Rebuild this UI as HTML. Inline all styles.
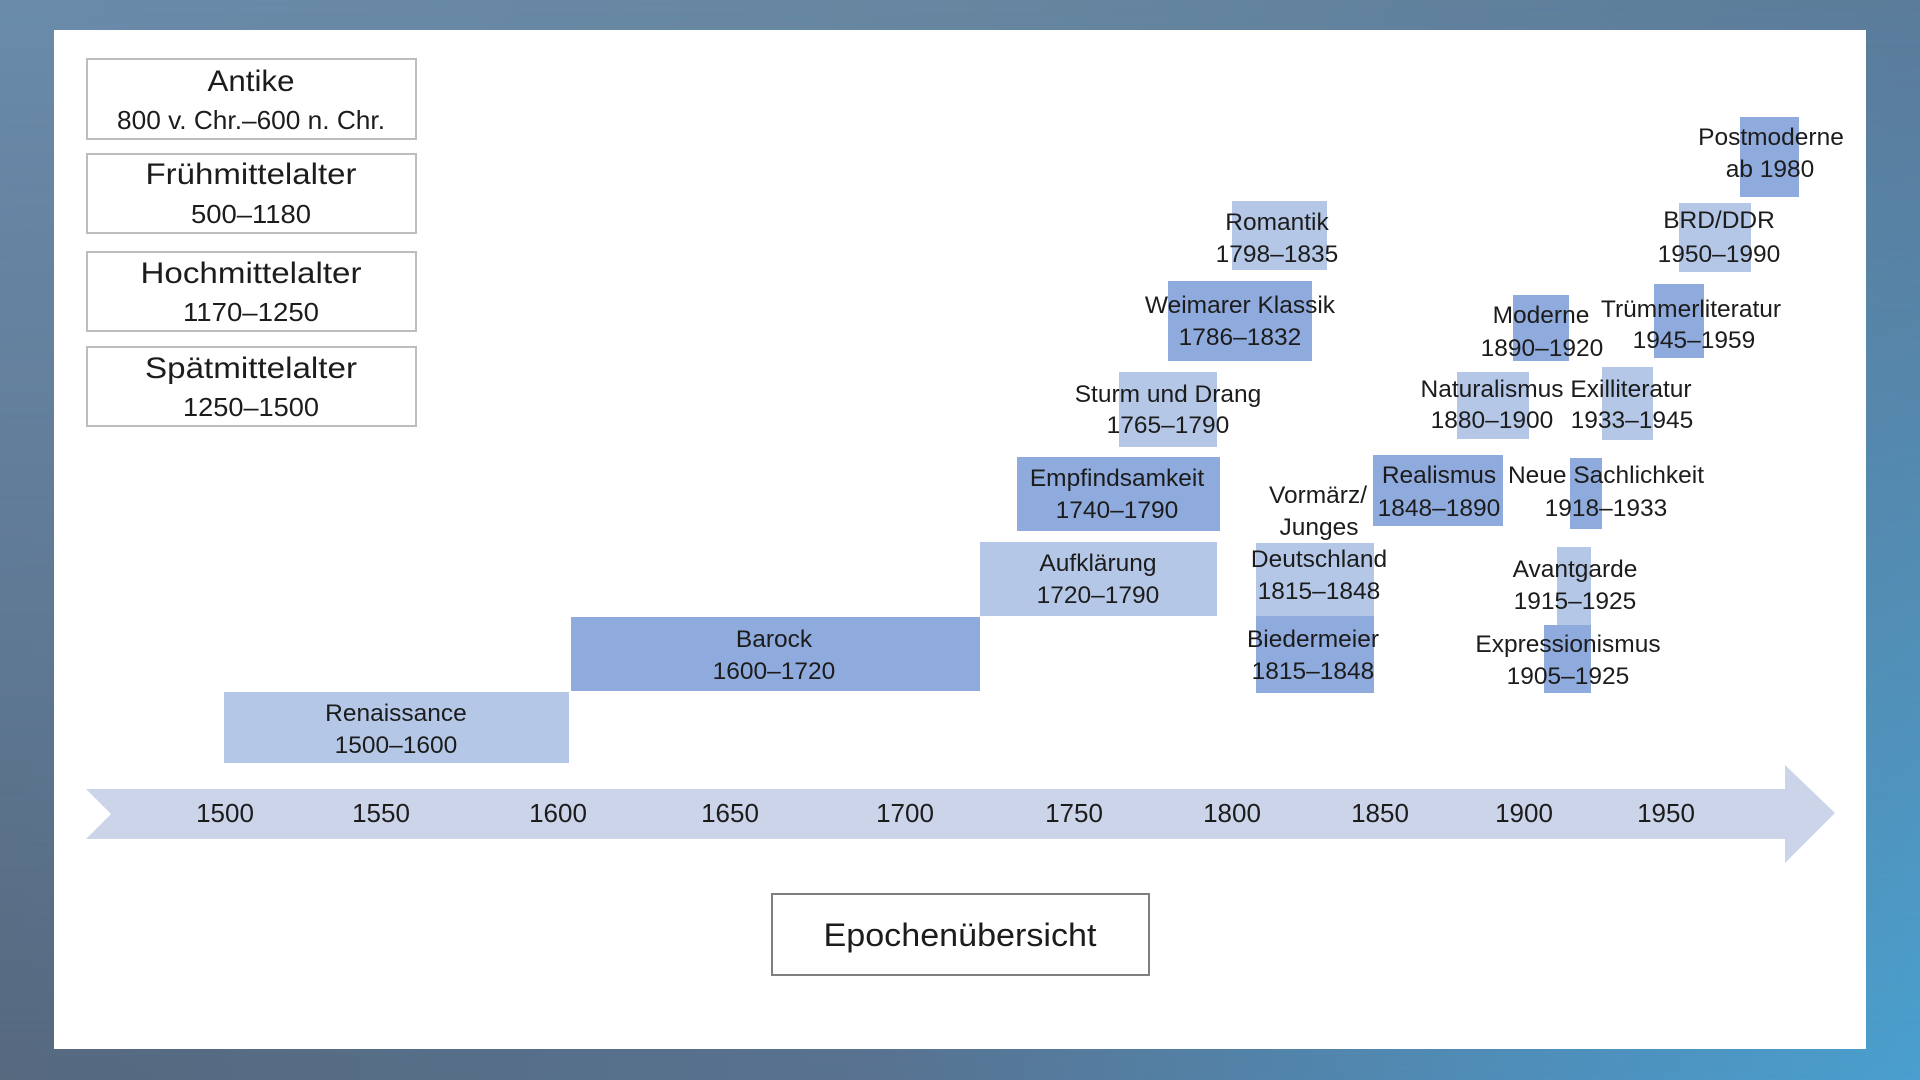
<!DOCTYPE html>
<html>
<head>
<meta charset="utf-8">
<style>
  html,body{margin:0;padding:0;width:1920px;height:1080px;overflow:hidden;}
  body{position:relative;background:linear-gradient(to right,#56697f 0%,#587290 45%,#4f8fbb 80%,#4aa0cf 100%);}
  .topblend{position:absolute;left:0;top:0;width:1920px;height:1080px;
    background:linear-gradient(to right,#6a8bab 0%,#67869f 50%,#5b7b9a 100%);
    -webkit-mask-image:linear-gradient(to bottom,#000 0%,rgba(0,0,0,0.55) 50%,rgba(0,0,0,0) 100%);
    mask-image:linear-gradient(to bottom,#000 0%,rgba(0,0,0,0.55) 50%,rgba(0,0,0,0) 100%);}
  svg{position:absolute;left:0;top:0;}
  text{font-family:"Liberation Sans",Arial,sans-serif;fill:#1c1c1c;}
</style>
</head>
<body>
<div class="topblend"></div>
<svg width="1920" height="1080" viewBox="0 0 1920 1080" xmlns="http://www.w3.org/2000/svg">
  <!-- panel -->
  <rect x="54" y="30" width="1812" height="1019" fill="#ffffff"/>

  <!-- left boxes -->
  <g fill="#ffffff" stroke="#bdbdbd" stroke-width="2">
    <rect x="87" y="59" width="329" height="80"/>
    <rect x="87" y="154" width="329" height="79"/>
    <rect x="87" y="252" width="329" height="79"/>
    <rect x="87" y="347" width="329" height="79"/>
  </g>
  <g text-anchor="middle">
    <text x="251" y="91" font-size="30" textLength="87" lengthAdjust="spacingAndGlyphs">Antike</text>
    <text x="251" y="129" font-size="26" textLength="268" lengthAdjust="spacingAndGlyphs">800 v. Chr.–600  n. Chr.</text>
    <text x="251" y="184" font-size="30" textLength="211" lengthAdjust="spacingAndGlyphs">Frühmittelalter</text>
    <text x="251" y="223" font-size="26" textLength="120" lengthAdjust="spacingAndGlyphs">500–1180</text>
    <text x="251" y="283" font-size="30" textLength="221" lengthAdjust="spacingAndGlyphs">Hochmittelalter</text>
    <text x="251" y="321" font-size="26" textLength="136" lengthAdjust="spacingAndGlyphs">1170–1250</text>
    <text x="251" y="378" font-size="30" textLength="212" lengthAdjust="spacingAndGlyphs">Spätmittelalter</text>
    <text x="251" y="416" font-size="26" textLength="136" lengthAdjust="spacingAndGlyphs">1250–1500</text>
  </g>

  <!-- epoch blocks: light -->
  <g fill="#b4c7e7">
    <rect x="224" y="692" width="345" height="71"/>
    <rect x="980" y="542" width="237" height="74"/>
    <rect x="1119" y="372" width="98" height="75"/>
    <rect x="1232" y="201" width="95" height="69"/>
    <rect x="1256" y="543" width="118" height="73"/>
    <rect x="1457" y="372" width="72" height="67"/>
    <rect x="1602" y="367" width="51" height="73"/>
    <rect x="1679" y="203" width="72" height="69"/>
    <rect x="1557" y="547" width="34" height="78"/>
  </g>
  <!-- epoch blocks: medium -->
  <g fill="#8faadc">
    <rect x="571" y="617" width="409" height="74"/>
    <rect x="1017" y="457" width="203" height="74"/>
    <rect x="1168" y="281" width="144" height="80"/>
    <rect x="1256" y="616" width="118" height="77"/>
    <rect x="1373" y="455" width="130" height="71"/>
    <rect x="1513" y="295" width="56" height="66"/>
    <rect x="1654" y="284" width="50" height="74"/>
    <rect x="1740" y="117" width="59" height="80"/>
    <rect x="1570" y="458" width="32" height="71"/>
    <rect x="1544" y="625" width="47" height="68"/>
  </g>

  <!-- epoch labels -->
  <g text-anchor="middle" font-size="24.5">
    <text x="396" y="721">Renaissance</text>
    <text x="396" y="753">1500–1600</text>

    <text x="774" y="647">Barock</text>
    <text x="774" y="679">1600–1720</text>

    <text x="1098" y="571">Aufklärung</text>
    <text x="1098" y="603">1720–1790</text>

    <text x="1117" y="486">Empfindsamkeit</text>
    <text x="1117" y="518">1740–1790</text>

    <text x="1168" y="402">Sturm und Drang</text>
    <text x="1168" y="433">1765–1790</text>

    <text x="1240" y="313">Weimarer Klassik</text>
    <text x="1240" y="345">1786–1832</text>

    <text x="1277" y="230">Romantik</text>
    <text x="1277" y="262">1798–1835</text>

    <text x="1318" y="503">Vormärz/</text>
    <text x="1319" y="535">Junges</text>
    <text x="1319" y="567">Deutschland</text>
    <text x="1319" y="599">1815–1848</text>

    <text x="1313" y="647">Biedermeier</text>
    <text x="1313" y="679">1815–1848</text>

    <text x="1439" y="483">Realismus</text>
    <text x="1439" y="516">1848–1890</text>

    <text x="1492" y="397">Naturalismus</text>
    <text x="1492" y="428">1880–1900</text>

    <text x="1541" y="323">Moderne</text>
    <text x="1542" y="356">1890–1920</text>

    <text x="1631" y="397">Exilliteratur</text>
    <text x="1632" y="428">1933–1945</text>

    <text x="1691" y="317">Trümmerliteratur</text>
    <text x="1694" y="348">1945–1959</text>

    <text x="1719" y="228">BRD/DDR</text>
    <text x="1719" y="262">1950–1990</text>

    <text x="1771" y="145">Postmoderne</text>
    <text x="1770" y="177">ab 1980</text>

    <text x="1606" y="483">Neue Sachlichkeit</text>
    <text x="1606" y="516">1918–1933</text>

    <text x="1575" y="577">Avantgarde</text>
    <text x="1575" y="609">1915–1925</text>

    <text x="1568" y="652">Expressionismus</text>
    <text x="1568" y="684">1905–1925</text>
  </g>

  <!-- timeline arrow -->
  <polygon points="86,789 1785,789 1785,765 1835,813 1785,863 1785,839 86,839 111,814" fill="#ccd4ea"/>
  <g text-anchor="middle" font-size="26">
    <text x="225" y="822">1500</text>
    <text x="381" y="822">1550</text>
    <text x="558" y="822">1600</text>
    <text x="730" y="822">1650</text>
    <text x="905" y="822">1700</text>
    <text x="1074" y="822">1750</text>
    <text x="1232" y="822">1800</text>
    <text x="1380" y="822">1850</text>
    <text x="1524" y="822">1900</text>
    <text x="1666" y="822">1950</text>
  </g>

  <!-- title box -->
  <rect x="772" y="894" width="377" height="81" fill="#ffffff" stroke="#7f7f7f" stroke-width="2"/>
  <text x="960" y="946" font-size="32" text-anchor="middle" textLength="273" lengthAdjust="spacingAndGlyphs">Epochenübersicht</text>
</svg>
</body>
</html>
